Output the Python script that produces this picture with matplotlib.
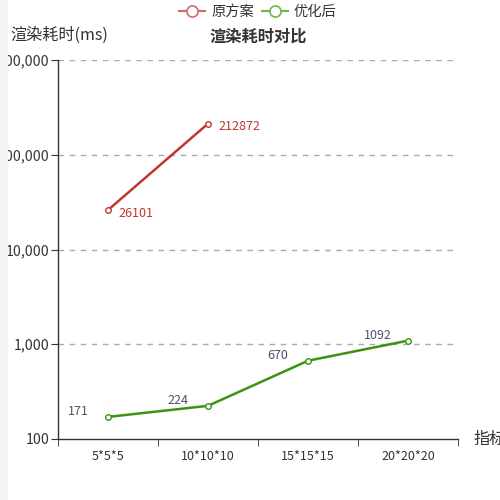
import matplotlib
matplotlib.use('Agg')
import matplotlib.pyplot as plt
from matplotlib.patches import Rectangle
from matplotlib.lines import Line2D
from matplotlib.ticker import FixedLocator, NullLocator

plt.rcParams['font.family'] = ['Noto Sans CJK SC', 'DejaVu Sans']

categories = ['5*5*5', '10*10*10', '15*15*15', '20*20*20']
old_values = [26101, 212872]
new_values = [171, 224, 670, 1092]
y_ticks = [100, 1000, 10000, 100000, 1000000]
y_tick_labels = ['100', '1,000', '10,000', '100,000', '1,000,000']
series_names = ['原方案', '优化后']

RED = '#c23531'
GREEN = '#3a9414'
AXIS = '#333333'

W, H = 500, 500
fig = plt.figure(figsize=(5, 5), dpi=100)
fig.patch.set_facecolor('white')

# axes box in pixels: x 58..458, y 60..439
ax = fig.add_axes([58 / W, 1 - 439 / H, 400 / W, 379 / H])
ax.set_yscale('log')
ax.set_ylim(100, 1000000)
ax.set_xlim(-0.5, len(categories) - 0.5)

for s in ['top', 'right']:
    ax.spines[s].set_visible(False)
for s in ['left', 'bottom']:
    ax.spines[s].set_color(AXIS)
    ax.spines[s].set_linewidth(1)

ax.yaxis.set_major_locator(FixedLocator(y_ticks))
ax.yaxis.set_minor_locator(NullLocator())
ax.set_yticklabels(y_tick_labels)
for y in y_ticks[1:]:
    ax.axhline(y, color='#aaaaaa', linestyle=(0, (4, 4)), linewidth=1, zorder=0)

ax.set_xticks(range(len(categories)))
ax.set_xticklabels(categories)
ax.xaxis.set_minor_locator(FixedLocator([i - 0.5 for i in range(len(categories) + 1)]))
ax.tick_params(axis='x', which='major', length=0, pad=8, labelsize=9, labelcolor=AXIS)
ax.tick_params(axis='x', which='minor', length=5, color=AXIS, direction='out')
ax.tick_params(axis='y', length=5, color=AXIS, labelsize=10.2, labelcolor=AXIS, pad=1)

x_old = list(range(len(old_values)))
x_new = list(range(len(new_values)))
ax.plot(x_old, old_values, color=RED, linewidth=1.8, marker='o', markersize=4,
        markerfacecolor='white', markeredgecolor=RED, markeredgewidth=1, zorder=3)
ax.plot(x_new, new_values, color=GREEN, linewidth=1.8, marker='o', markersize=4,
        markerfacecolor='white', markeredgecolor=GREEN, markeredgewidth=1, zorder=3)

for x, v in zip(x_old, old_values):
    ax.annotate(str(v), (x, v), xytext=(10, -3), textcoords='offset pixels',
                ha='left', va='center', color=RED, fontsize=9)
for x, v in zip(x_new, new_values):
    ax.annotate(str(v), (x, v), xytext=(-30, 5), textcoords='offset pixels',
                ha='center', va='center', color='#4a5466', fontsize=9)

fig.text(258 / W, 1 - 37 / H, '渲染耗时对比', ha='center', va='center',
         fontsize=11.7, fontweight='bold', color='#333333')
fig.text(10 / W, 1 - 35 / H, '渲染耗时(ms)', ha='left', va='center',
         fontsize=11.6, color='#333333')
fig.text(473 / W, 1 - 439 / H, '指标', ha='left', va='center',
         fontsize=11.6, color='#333333')

handles = [
    Line2D([], [], color='#d46a67', linewidth=1.5, marker='o', markersize=8,
           markerfacecolor='white', markeredgecolor='#d46a67', markeredgewidth=1.2),
    Line2D([], [], color='#6fb552', linewidth=1.5, marker='o', markersize=8,
           markerfacecolor='white', markeredgecolor='#6fb552', markeredgewidth=1.2),
]
fig.legend(handles, series_names, loc='center', bbox_to_anchor=(258 / W, 1 - 12 / H),
           ncol=2, frameon=False, fontsize=10.3, handlelength=1.8, columnspacing=0.6,
           handletextpad=0.4, labelcolor='#333333')

# light page strip on the left that hides the overflowing tick labels
fig.patches.append(Rectangle((0, 0), 8 / W, 1, transform=fig.transFigure,
                             facecolor='#f2f2f7', edgecolor='none', zorder=10))

fig.savefig('out.png', dpi=100)
